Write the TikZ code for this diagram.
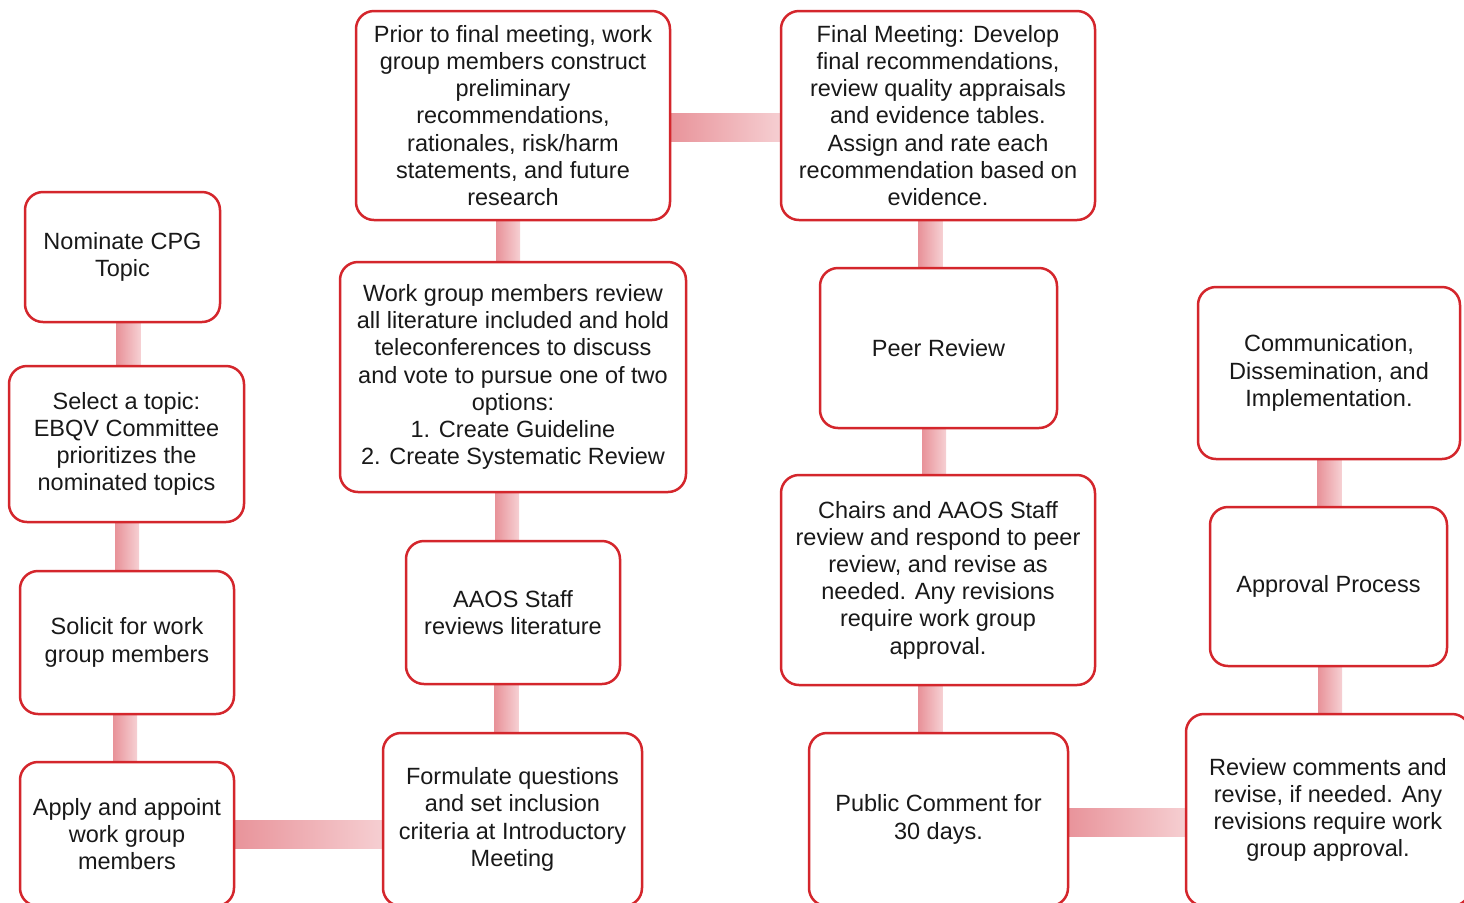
\documentclass[tikz,border=0pt]{standalone}
\usepackage{fontspec}
\setmainfont{Liberation Sans}
\usetikzlibrary{calc,backgrounds}
\definecolor{boxred}{RGB}{212,38,44}
\definecolor{pinkD}{RGB}{232,146,153}
\definecolor{pinkL}{RGB}{246,208,211}
\definecolor{txt}{RGB}{25,25,25}
\tikzset{
  stepbox/.style={draw=boxred, line width=1.25pt, rounded corners=9pt, fill=white,
    inner sep=0pt, align=center, text=txt, font=\fontsize{11.75}{13.6}\selectfont},
  barfill/.style={left color=pinkD, right color=pinkL, draw=none},
}
\newcommand{\vconn}[3]{% upper, lower, x offset from lower center (pt)
  \fill[barfill] ($(#1.south -| #2.north)+(#3-6pt,2pt)$) rectangle ($(#2.north)+(#3+6pt,-2pt)$);}
\newcommand{\hconn}[3]{% left, right, y offset from left center (pt)
  \fill[barfill] ($(#1.east)+(-2pt,#3+7pt)$) rectangle ($(#2.west |- #1.east)+(2pt,#3-7pt)$);}
\begin{document}
\begin{tikzpicture}[x=0.5pt,y=-0.5pt]
\useasboundingbox (0,0) rectangle (1464,902);
\clip (0,0) rectangle (1464,902);
\node[stepbox, minimum width=97.5pt, minimum height=65pt] (nom) at (122.5,257) {Nominate CPG\\Topic};
\node[stepbox, minimum width=117.5pt, minimum height=78pt] (sel) at (126.5,444) {Select a topic:\\EBQV Committee\\prioritizes the\\nominated topics};
\node[stepbox, minimum width=107pt, minimum height=71.5pt] (sol) at (127,642.5) {Solicit for work\\group members};
\node[stepbox, minimum width=107pt, minimum height=72pt] (app) at (127,834) {Apply and appoint\\work group\\members};
\node[stepbox, minimum width=129.5pt, minimum height=86.5pt] (form) at (512.5,819.5) {Formulate questions\\and set inclusion\\criteria at Introductory\\Meeting};
\node[stepbox, minimum width=107pt, minimum height=71.5pt] (aaos) at (513,612.5) {AAOS Staff\\reviews literature};
\node[stepbox, minimum width=173pt, minimum height=115pt] (work) at (513,377) {Work group members review\\all literature included and hold\\teleconferences to discuss\\and vote to pursue one of two\\options:\\1. Create Guideline\\2. Create Systematic Review};
\node[stepbox, minimum width=157pt, minimum height=104.5pt] (prior) at (513,115.5) {Prior to final meeting, work\\group members construct\\preliminary\\recommendations,\\rationales, risk/harm\\statements, and future\\research};
\node[stepbox, minimum width=157pt, minimum height=104.5pt] (final) at (938,115.5) {Final Meeting: Develop\\final recommendations,\\review quality appraisals\\and evidence tables.\\Assign and rate each\\recommendation based on\\evidence.};
\node[stepbox, minimum width=118.5pt, minimum height=80pt] (peer) at (938.5,348) {Peer Review};
\node[stepbox, minimum width=157pt, minimum height=105pt] (chairs) at (938,580) {Chairs and AAOS Staff\\review and respond to peer\\review, and revise as\\needed. Any revisions\\require work group\\approval.};
\node[stepbox, minimum width=129.5pt, minimum height=86.5pt] (pub) at (938.5,819.5) {Public Comment for\\30 days.};
\node[stepbox, minimum width=142pt, minimum height=96pt] (rev) at (1328,810) {Review comments and\\revise, if needed. Any\\revisions require work\\group approval.};
\node[stepbox, minimum width=118.5pt, minimum height=79.5pt] (appr) at (1328.5,586.5) {Approval Process};
\node[stepbox, minimum width=131pt, minimum height=86pt] (comm) at (1329,373) {Communication,\\Dissemination, and\\Implementation.};
\begin{pgfonlayer}{background}
\fill[white] (0,0) rectangle (1464,902);
\vconn{nom}{sel}{1pt}
\vconn{sel}{sol}{0pt}
\vconn{sol}{app}{-1pt}
\hconn{app}{form}{0pt}
\vconn{aaos}{form}{-3pt}
\vconn{work}{aaos}{-3pt}
\vconn{prior}{work}{-2.5pt}
\hconn{prior}{final}{-6pt}
\vconn{final}{peer}{-4pt}
\vconn{peer}{chairs}{-2pt}
\vconn{chairs}{pub}{-4pt}
\hconn{pub}{rev}{-1.5pt}
\vconn{appr}{rev}{1pt}
\vconn{comm}{appr}{0.5pt}
\end{pgfonlayer}
\end{tikzpicture}
\end{document}
